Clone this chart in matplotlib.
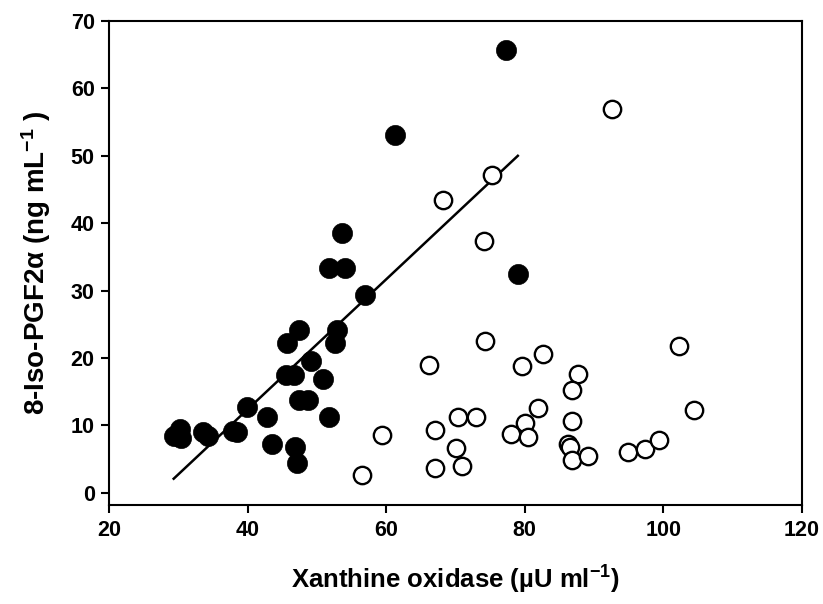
import matplotlib
matplotlib.use("Agg")
import matplotlib.pyplot as plt

# Filled circles (group 1)
filled_x = [29.4, 30.2, 30.3, 33.6, 34.3, 37.8, 38.5, 39.9, 42.8, 43.5, 45.7, 45.5, 46.7,
            47.4, 46.8, 47.1, 47.4, 48.7, 49.2, 50.8, 51.7, 52.6, 52.9, 51.7, 54.1, 53.6,
            56.9, 61.2, 77.3, 79.0]
filled_y = [8.4, 9.5, 8.1, 9.0, 8.5, 9.2, 9.1, 12.7, 11.2, 7.2, 22.2, 17.5, 17.5,
            24.2, 6.8, 4.4, 13.8, 13.8, 19.6, 16.9, 11.2, 22.2, 24.1, 33.3, 33.3, 38.5,
            29.3, 53.1, 65.7, 32.5]

# Open circles (group 2)
open_x = [92.6, 75.3, 68.2, 74.1, 74.3, 66.2, 82.7, 79.6, 87.7, 86.8, 81.9, 70.3, 72.9,
          59.4, 67.1, 80.0, 78.0, 80.5, 86.8, 70.1, 86.3, 86.6, 86.8, 89.1, 67.1, 71.0,
          56.5, 102.3, 104.4, 94.9, 97.4, 99.4]
open_y = [56.9, 47.1, 43.5, 37.4, 22.5, 18.9, 20.6, 18.8, 17.7, 15.3, 12.6, 11.3, 11.3,
          8.6, 9.4, 10.4, 8.7, 8.3, 10.6, 6.7, 7.2, 6.8, 4.9, 5.4, 3.7, 4.0,
          2.6, 21.8, 12.3, 6.0, 6.5, 7.9]

# Regression line endpoints
fit_x = [29.3, 79.0]
fit_y = [2.1, 50.0]

xticks = [20, 40, 60, 80, 100, 120]
yticks = [0, 10, 20, 30, 40, 50, 60, 70]

plt.rcParams['font.family'] = ['Liberation Sans', 'DejaVu Sans']
plt.rcParams['font.weight'] = 'bold'
plt.rcParams['mathtext.fontset'] = 'custom'
plt.rcParams['mathtext.rm'] = 'Liberation Sans:bold'
plt.rcParams['mathtext.bf'] = 'Liberation Sans:bold'
plt.rcParams['mathtext.default'] = 'bf'

fig = plt.figure(figsize=(8.23, 6.04), dpi=100)
ax = fig.add_axes([109.3 / 823, 1 - 505 / 604, (801.7 - 109.3) / 823, (505 - 21) / 604])

ax.plot(fit_x, fit_y, color='black', lw=1.8, zorder=2)
ax.plot(filled_x, filled_y, 'o', ms=14.5, mfc='black', mec='black', mew=0.5, ls='none', zorder=3)
ax.plot(open_x, open_y, 'o', ms=12.5, mfc='white', mec='black', mew=1.7, ls='none', zorder=3)

ax.set_xlim(20, 120)
ax.set_ylim(-1.8, 70)
ax.set_xticks(xticks)
ax.set_yticks(yticks)
ax.tick_params(direction='out', length=5.5, width=1.5, labelsize=15.5, pad=5)
for lab in ax.get_xticklabels() + ax.get_yticklabels():
    lab.set_fontweight('bold')
for s in ax.spines.values():
    s.set_linewidth(1.5)

ax.set_xlabel(r'Xanthine oxidase (µU ml$^{-1}$)', fontsize=18.5, fontweight='bold', labelpad=17)
ax.set_ylabel(r'8-Iso-PGF2α (ng mL$^{-1}$ )', fontsize=20, fontweight='bold', labelpad=13)

fig.savefig('out.png', dpi=100)
